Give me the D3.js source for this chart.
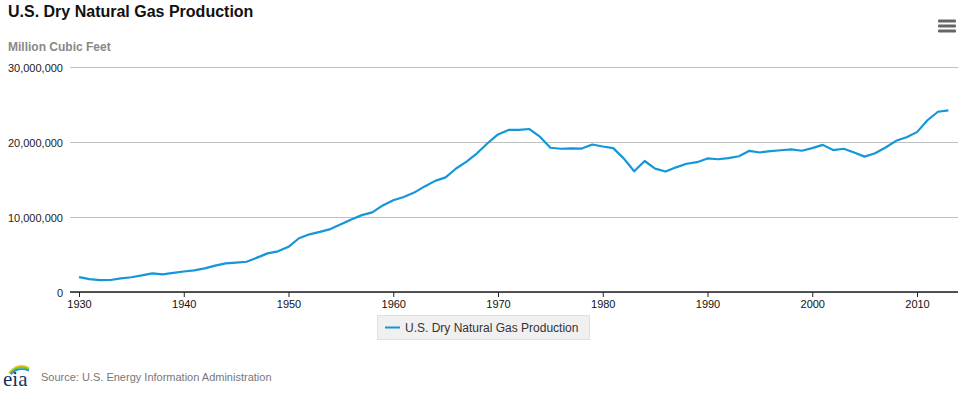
<!DOCTYPE html>
<html>
<head>
<meta charset="utf-8">
<script src="https://cdn.jsdelivr.net/npm/d3@7"></script>
<style>
  body { margin: 0; background: #fff; }
  svg { display: block; font-family: "Liberation Sans", Arial, Helvetica, sans-serif; }
</style>
</head>
<body>
<svg id="chart" width="967" height="393"></svg>
<script>
// U.S. dry natural gas production, million cubic feet
const years = d3.range(1930, 2014);
const production = [
  1979000, 1722000, 1594000, 1597000, 1816000, 1969000, 2225000, 2473000, 2358000, 2538000,
  2734000, 2894000, 3146000, 3516000, 3815000, 3919000, 4030000, 4582000, 5148000, 5420000,
  6022000, 7166000, 7693000, 8014000, 8388000, 9029000, 9663000, 10249000, 10619000, 11545000,
  12228000, 12662000, 13253000, 14077000, 14815000, 15286000, 16470000, 17388000, 18495000, 19831000,
  21014000, 21610000, 21624000, 21731000, 20713000, 19236000, 19098000, 19163000, 19122000, 19663000,
  19403000, 19181000, 17820000, 16094000, 17466000, 16454000, 16059000, 16621000, 17103000, 17311000,
  17810000, 17698000, 17840000, 18095000, 18821000, 18599000, 18793000, 18902000, 19024000, 18832000,
  19182000, 19616000, 18928000, 19099000, 18591000, 18051000, 18504000, 19266000, 20159000, 20624000,
  21316000, 22902000, 24033000, 24206000
];
const xTicks = [1930, 1940, 1950, 1960, 1970, 1980, 1990, 2000, 2010];
const yTicks = [0, 10000000, 20000000, 30000000];

const seriesName = "U.S. Dry Natural Gas Production";
const lineColor = "#1496d8";

const plotLeft = 70, plotRight = 958;
const svg = d3.select("#chart");

const x = d3.scaleLinear().domain([1930, 2010]).range([79, 917]);
const y = d3.scaleLinear().domain([0, 30000000]).range([292, 67]);

// title + units
svg.append("text")
  .attr("x", 8).attr("y", 17)
  .attr("font-size", 16).attr("font-weight", "bold").attr("fill", "#111")
  .text("U.S. Dry Natural Gas Production");

svg.append("text")
  .attr("x", 8).attr("y", 51)
  .attr("font-size", 12).attr("font-weight", "bold").attr("fill", "#888")
  .text("Million Cubic Feet");

// menu icon
svg.append("g").selectAll("rect")
  .data([0, 1, 2])
  .join("rect")
  .attr("x", 938).attr("y", d => 19.5 + d * 5)
  .attr("width", 18).attr("height", 3).attr("rx", 1)
  .attr("fill", "#666");

// y grid + labels
const yAxis = svg.append("g")
  .attr("transform", `translate(${plotLeft},0)`)
  .call(d3.axisLeft(y)
    .tickValues(yTicks)
    .tickSize(-(plotRight - plotLeft))
    .tickPadding(7)
    .tickFormat(d3.format(",")));
yAxis.select(".domain").remove();
yAxis.selectAll(".tick line").attr("stroke", "#c0c0c0");
yAxis.selectAll(".tick text")
  .attr("font-size", 11).attr("fill", "#222")
  .attr("font-family", "'Liberation Sans', Arial, sans-serif")
  .attr("dy", "0.45em");

// x axis
svg.append("line")
  .attr("x1", plotLeft).attr("x2", plotRight)
  .attr("y1", 292).attr("y2", 292)
  .attr("stroke", "#222").attr("stroke-width", 1.5);

const xAxis = svg.append("g")
  .attr("transform", "translate(0,292)")
  .call(d3.axisBottom(x)
    .tickValues(xTicks)
    .tickSize(5)
    .tickPadding(3)
    .tickFormat(d3.format("d")));
xAxis.select(".domain").remove();
xAxis.selectAll(".tick line").attr("stroke", "#222");
xAxis.selectAll(".tick text")
  .attr("font-size", 11).attr("fill", "#111")
  .attr("font-family", "'Liberation Sans', Arial, sans-serif");

// series line
const line = d3.line()
  .x((d, i) => x(years[i]))
  .y(d => y(d));

svg.append("path")
  .datum(production)
  .attr("fill", "none")
  .attr("stroke", lineColor)
  .attr("stroke-width", 2.2)
  .attr("stroke-linejoin", "round")
  .attr("d", line);

// legend
const legend = svg.append("g").attr("transform", "translate(377,315)");
legend.append("rect")
  .attr("x", 0.5).attr("y", 0.5)
  .attr("width", 212).attr("height", 24)
  .attr("fill", "#f0f0f0").attr("stroke", "#e0e0e0");
legend.append("line")
  .attr("x1", 8).attr("x2", 23).attr("y1", 12.5).attr("y2", 12.5)
  .attr("stroke", lineColor).attr("stroke-width", 2);
legend.append("text")
  .attr("x", 28).attr("y", 17)
  .attr("font-size", 12).attr("fill", "#333")
  .text(seriesName);

// eia logo + source
const logo = svg.append("g");
const arcs = [
  { c: "#f2c414", dy: 0 },
  { c: "#7cc242", dy: 2.2 },
  { c: "#1a98d8", dy: 4.4 }
];
logo.selectAll("path")
  .data(arcs)
  .join("path")
  .attr("d", d => `M${9 + d.dy * 0.4},${373 + d.dy * 0.3} Q18,${362 + d.dy} 29,${368 + d.dy * 0.6}`)
  .attr("fill", "none")
  .attr("stroke", d => d.c)
  .attr("stroke-width", 1.8);
logo.append("text")
  .attr("x", 3).attr("y", 386)
  .attr("font-family", "'Liberation Serif', 'DejaVu Serif', serif")
  .attr("font-size", 21).attr("fill", "#16335f")
  .text("eia");

svg.append("text")
  .attr("x", 41).attr("y", 381)
  .attr("font-size", 11).attr("fill", "#777")
  .text("Source: U.S. Energy Information Administration");
</script>
</body>
</html>
